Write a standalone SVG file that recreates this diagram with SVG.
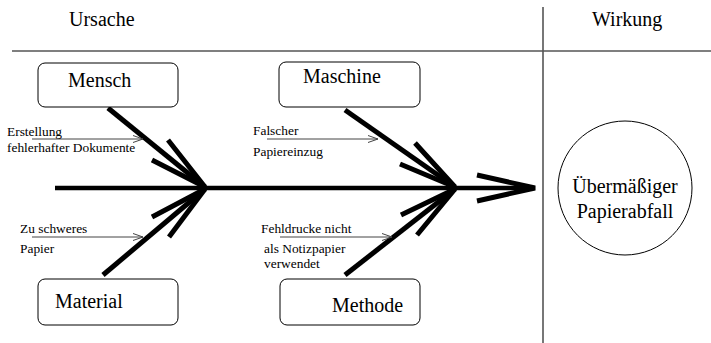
<svg xmlns="http://www.w3.org/2000/svg" width="711" height="343" viewBox="0 0 711 343">
<style>
  .t { font-family: "Liberation Serif", "Times New Roman", serif; fill: #000; }
  .big { font-size: 20px; }
  .small { font-size: 13.4px; }
  .box { fill: #fff; stroke: #000; stroke-width: 1; }
  .grid { stroke: #555; stroke-width: 1.6; fill: none; }
  .bone { stroke: #000; stroke-width: 5; fill: none; }
  .spine { stroke: #000; stroke-width: 4.5; fill: none; }
  .hint { stroke: #444; stroke-width: 1; fill: none; marker-end: url(#open); }
</style>
<defs>
  <marker id="open" viewBox="0 0 10 8" refX="10" refY="4" markerWidth="10" markerHeight="8" markerUnits="userSpaceOnUse" orient="auto">
    <path d="M0,0.5 L10,4 L0,7.5" fill="none" stroke="#444" stroke-width="1"/>
  </marker>
</defs>
<rect width="711" height="343" fill="#fff"/>
<g id="frame">
  <line class="grid" x1="12" y1="51" x2="711" y2="51"/>
  <line class="grid" x1="543" y1="7" x2="543" y2="343"/>
  <text class="t big" x="69" y="26">Ursache</text>
  <text class="t big" x="592" y="26">Wirkung</text>
</g>
<g id="connectors">
  <line class="spine" x1="55" y1="188" x2="533" y2="188"/>
  <polyline class="bone" points="477,175 535,188 477,201" stroke-linejoin="miter"/>
  <line class="bone" x1="108" y1="108" x2="205" y2="187"/>
  <polyline class="bone" points="168,140 205,187 152,160"/>
  <line class="bone" x1="345" y1="110" x2="455" y2="187"/>
  <polyline class="bone" points="415,143 455,187 400,164"/>
  <line class="bone" x1="103" y1="275" x2="205" y2="189"/>
  <polyline class="bone" points="169,237 205,189 152,217"/>
  <line class="bone" x1="345" y1="275" x2="455" y2="189"/>
  <polyline class="bone" points="417,235 455,189 401,215"/>
  <line class="hint" x1="32" y1="139" x2="143" y2="139"/>
  <line class="hint" x1="267" y1="139" x2="378" y2="139"/>
  <line class="hint" x1="32" y1="237" x2="143" y2="237"/>
  <line class="hint" x1="280" y1="237" x2="392" y2="237"/>
</g>
<g id="mensch">
  <rect class="box" x="38" y="63" width="140" height="44" rx="7"/>
  <text class="t big" x="68" y="87">Mensch</text>
</g>
<g id="maschine">
  <rect class="box" x="279" y="62" width="141" height="45" rx="7"/>
  <text class="t big" x="303" y="83">Maschine</text>
</g>
<g id="material">
  <rect class="box" x="38" y="279" width="140" height="46" rx="7"/>
  <text class="t big" x="55" y="308">Material</text>
</g>
<g id="methode">
  <rect class="box" x="280" y="279" width="140" height="46" rx="7"/>
  <text class="t big" x="332" y="312">Methode</text>
</g>
<g id="wirkung">
  <circle cx="625" cy="188" r="67" fill="#fff" stroke="#000" stroke-width="1"/>
  <text class="t big" x="625" y="193" text-anchor="middle">Übermäßiger</text>
  <text class="t big" x="625" y="218" text-anchor="middle">Papierabfall</text>
</g>
<g id="labels">
  <text class="t small" x="7" y="136">Erstellung</text>
  <text class="t small" x="7" y="152">fehlerhafter Dokumente</text>
  <text class="t small" x="253" y="135">Falscher</text>
  <text class="t small" x="253" y="156">Papiereinzug</text>
  <text class="t small" x="20" y="233">Zu schweres</text>
  <text class="t small" x="20" y="253">Papier</text>
  <text class="t small" x="261" y="233">Fehldrucke nicht</text>
  <text class="t small" x="264" y="253">als Notizpapier</text>
  <text class="t small" x="264" y="268">verwendet</text>
</g>
</svg>
